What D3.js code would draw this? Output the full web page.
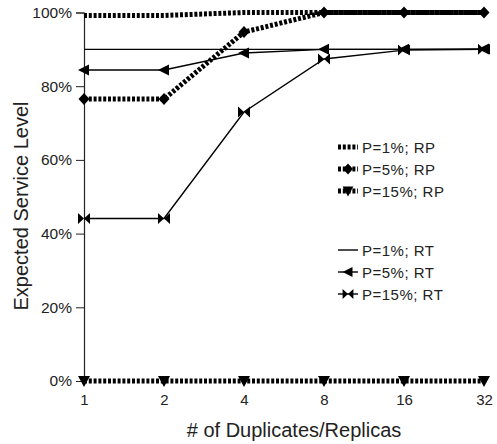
<!DOCTYPE html>
<html>
<head>
<meta charset="utf-8">
<script src="https://cdn.jsdelivr.net/npm/d3@7"></script>
<style>
  body { margin: 0; background: #fff; }
  text { font-family: "Liberation Sans", Arial, sans-serif; fill: #222; }
</style>
</head>
<body>
<div id="chart"></div>
<script>
// data
const replicas = [1, 2, 4, 8, 16, 32];
const yTicks = [0, 20, 40, 60, 80, 100];

const rp1 = [99.2, 99.2, 100, 100, 100, 100];
const rp5 = [76.5, 76.5, 94.7, 100, 100, 100];
const rp15 = [0, 0, 0, 0, 0, 0];
const rt1 = [90, 90, 90, 90, 90, 90];
const rt5 = [84.4, 84.4, 89, 90, 90, 90.1];
const rt15 = [44.1, 44.1, 73, 87.4, 89.8, 90];

const seriesNames = ["P=1%; RP", "P=5%; RP", "P=15%; RP", "P=1%; RT", "P=5%; RT", "P=15%; RT"];

const width = 497, height = 444;
const margin = { top: 12.5, right: 13, bottom: 63, left: 84 };

const svg = d3.select("#chart").append("svg")
    .attr("width", width)
    .attr("height", height);

const x = d3.scaleLog().base(2)
    .domain([1, 32])
    .range([margin.left, width - margin.right]);

const y = d3.scaleLinear()
    .domain([0, 100])
    .range([height - margin.bottom, margin.top]);

// y axis
const yAxis = d3.axisLeft(y)
    .tickValues(yTicks)
    .tickSize(8)
    .tickFormat(d => d + "%");

let gy = svg.append("g")
    .attr("transform", "translate(" + margin.left + ",0)")
    .call(yAxis);
gy.select(".domain").attr("stroke", "#222").attr("stroke-width", 1.2);
gy.selectAll(".tick line").attr("stroke", "#222");
gy.selectAll(".tick text").style("font-size", "15.5px").attr("x", -12);

// x axis labels only (no line)
const xAxis = d3.axisBottom(x)
    .tickValues(replicas)
    .tickSize(0)
    .tickFormat(d => d);

let gx = svg.append("g")
    .attr("transform", "translate(0," + (height - margin.bottom) + ")")
    .call(xAxis);
gx.select(".domain").remove();
gx.selectAll(".tick text").style("font-size", "15px").attr("y", 24).attr("dy", null);

// axis titles
svg.append("text")
    .attr("x", 294)
    .attr("y", 437)
    .attr("text-anchor", "middle")
    .style("font-size", "20px")
    .text("# of Duplicates/Replicas");

svg.append("text")
    .attr("transform", "rotate(-90)")
    .attr("x", -206)
    .attr("y", 28)
    .attr("text-anchor", "middle")
    .style("font-size", "20px")
    .text("Expected Service Level");

// marker shapes
const diamond = "M0,-6L5.5,0L0,6L-5.5,0Z";
const triDown = "M-6,-5L6,-5L0,6Z";
const triLeft = "M-6,0L5,-5.5L5,5.5Z";
const bowtie = "M-6,-5.5L0,0L-6,5.5Z M6,-5.5L0,0L6,5.5Z";

const series = [
    { name: seriesNames[0], values: rp1, dotted: true, marker: null },
    { name: seriesNames[1], values: rp5, dotted: true, marker: diamond },
    { name: seriesNames[2], values: rp15, dotted: true, marker: triDown },
    { name: seriesNames[3], values: rt1, dotted: false, marker: null },
    { name: seriesNames[4], values: rt5, dotted: false, marker: triLeft },
    { name: seriesNames[5], values: rt15, dotted: false, marker: bowtie }
];

const line = d3.line()
    .x((d, i) => x(replicas[i]))
    .y(d => y(d));

// draw solid ones first, dotted on top
const order = [3, 4, 5, 0, 1, 2];
order.forEach(k => {
    let s = series[k];
    svg.append("path")
        .datum(s.values)
        .attr("fill", "none")
        .attr("stroke", "#000")
        .attr("stroke-width", s.dotted ? 5 : 1.4)
        .style("stroke-dasharray", s.dotted ? "3,1.8" : null)
        .attr("d", line);

    if (s.marker) {
        svg.selectAll(null)
            .data(s.values)
            .enter()
            .append("path")
            .attr("d", s.marker)
            .attr("fill", "#000")
            .attr("transform", (d, i) => "translate(" + x(replicas[i]) + "," + y(d) + ")");
    }
});

// legend
const legendY = [147, 169, 191, 250, 272, 294];
const lg = svg.append("g");
series.forEach((s, i) => {
    let g = lg.append("g").attr("transform", "translate(338," + legendY[i] + ")");
    g.append("line")
        .attr("x1", 0).attr("x2", 20)
        .attr("stroke", "#000")
        .attr("stroke-width", s.dotted ? 5 : 1.4)
        .style("stroke-dasharray", s.dotted ? "3,1.8" : null);
    if (s.marker) {
        g.append("path")
            .attr("d", s.marker)
            .attr("fill", "#000")
            .attr("transform", "translate(10,0) scale(0.9)");
    }
    g.append("text")
        .attr("x", 24)
        .attr("y", 5.5)
        .style("font-size", "15px")
        .style("letter-spacing", "0.5px")
        .text(s.name);
});
</script>
</body>
</html>
